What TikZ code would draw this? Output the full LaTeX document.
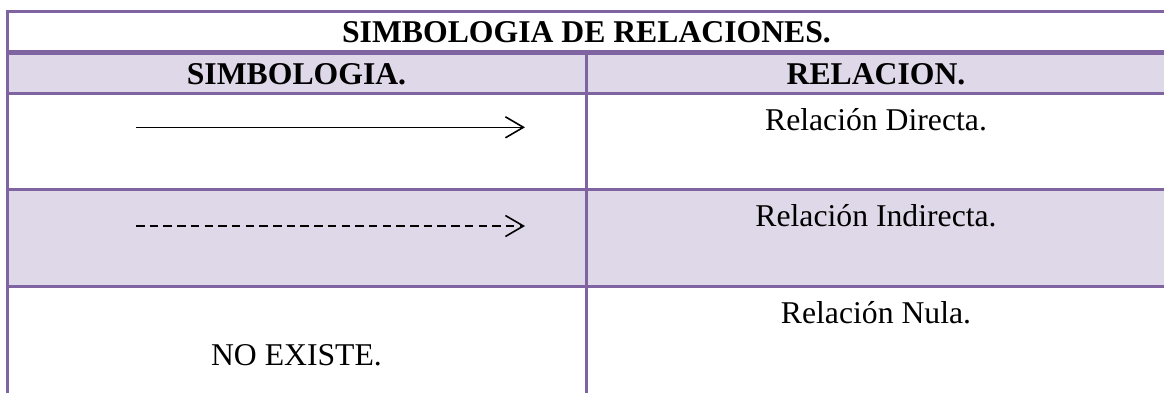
\documentclass[tikz,border=0pt]{standalone}
\usepackage{fontspec}
\setmainfont{Liberation Serif}
\usetikzlibrary{arrows.meta}
\definecolor{marco}{RGB}{128,100,162}
\definecolor{relleno}{RGB}{223,216,232}
\tikzset{
	celda/.style={anchor=base,inner sep=0pt,font=\fontsize{31.7}{36}\selectfont},
	cabeza/.style={celda,font=\fontsize{31.7}{36}\selectfont\bfseries},
	linea/.style={draw=marco,line width=2.7pt},
	flecha/.style={->,line width=1.6pt},
}
\begin{document}
\begin{tikzpicture}[x=1pt,y=-1pt,>={Straight Barb[length=18pt,width=21pt]}]
	\useasboundingbox (0,0) rectangle (1164,392);
	\clip (0,0) rectangle (1164,392);
	\def\izq{296.5}
	\def\der{876}
	% filas sombreadas
	\fill[relleno] (7,52.5) rectangle (1170,93.3);
	\fill[relleno] (7,189.7) rectangle (1170,286.3);
	% rejilla
	\foreach \y/\w in {11.3/2.7,52.5/4.5,93.3/3.3,189.7/2.7,286.3/2.7}{
		\draw[marco,line width=\w pt] (6,\y) -- (1170,\y);
	}
	\draw[linea] (7.3,10) -- (7.3,400);
	\draw[linea] (586.3,52.5) -- (586.3,400);
	% textos
	\node[cabeza] (titulo) at (586.5,42) {SIMBOLOGIA DE RELACIONES.};
	\node[cabeza] (simb) at (\izq,84) {SIMBOLOGIA.};
	\node[cabeza] (rel) at (\der,84) {RELACION.};
	\node[celda] (directa) at (\der,130) {Relación Directa.};
	\node[celda] (indirecta) at (\der,226.4) {Relación Indirecta.};
	\node[celda] (nula) at (\der,323) {Relación Nula.};
	\node[celda] (noexiste) at (\izq,365) {NO EXISTE.};
	% simbolos
	\coordinate (d1) at (136,127.3);
	\coordinate (d2) at (525,127.3);
	\coordinate (i1) at (136,226);
	\coordinate (i2) at (525,226);
	\draw[flecha] (d1) -- (d2);
	\draw[flecha,dash pattern=on 8.5pt off 5.2pt] (i1) -- (i2);
\end{tikzpicture}
\end{document}
